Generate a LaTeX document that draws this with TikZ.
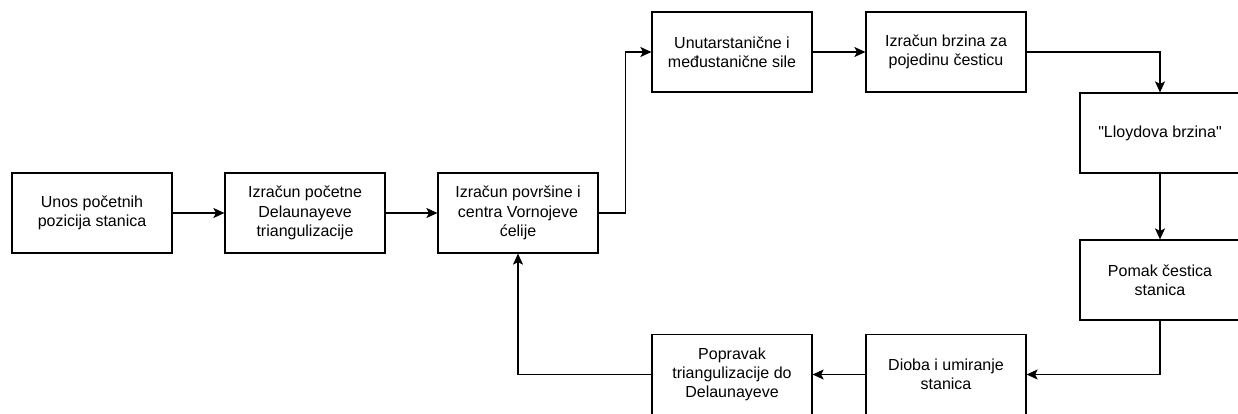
\documentclass[tikz,border=0pt]{standalone}
\usepackage{fontspec}
\setmainfont{Liberation Sans}
\usetikzlibrary{arrows.meta}

\tikzset{
  korak/.style={draw, line width=1.2pt, minimum width=160pt, minimum height=80pt,
    inner sep=0pt, align=center, font=\fontsize{16}{19.2}\selectfont},
  tok/.style={line width=1.2pt, -{Stealth[length=11pt,width=10pt,inset=2.5pt]}}
}

\begin{document}
\begin{tikzpicture}[x=1pt,y=-1pt]
    \useasboundingbox (0,0) rectangle (1238,413);

    % koraci algoritma
    \node[korak] (unos) at (92,213) {Unos početnih\\pozicija stanica};
    \node[korak] (delaunay) at (305,213) {Izračun početne\\Delaunayeve\\triangulizacije};
    \node[korak] (voronoi) at (518,213) {Izračun površine i\\centra Vornojeve\\ćelije};
    \node[korak] (sile) at (732,52) {Unutarstanične i\\međustanične sile};
    \node[korak] (brzine) at (946,52) {Izračun brzina za\\pojedinu česticu};
    \node[korak] (lloyd) at (1160,133) {\textquotedbl Lloydova brzina\textquotedbl};
    \node[korak] (pomak) at (1160,280) {Pomak čestica\\stanica};
    \node[korak] (dioba) at (946,374.5) {Dioba i umiranje\\stanica};
    \node[korak] (popravak) at (732,374.5) {Popravak\\triangulizacije do\\Delaunayeve};

    % strelice
    \draw[tok] (unos) -- (delaunay);
    \draw[tok] (delaunay) -- (voronoi);
    \draw[tok] (voronoi.east) -- ++(27,0) |- (sile.west); % gore prema silama
    \draw[tok] (sile) -- (brzine);
    \draw[tok] (brzine.east) -| (lloyd.north);
    \draw[tok] (lloyd) -- (pomak);
    \draw[tok] (pomak.south) |- (dioba.east);
    \draw[tok] (dioba) -- (popravak);
    \draw[tok] (popravak.west) -| (voronoi.south); % natrag u petlju
\end{tikzpicture}
\end{document}
